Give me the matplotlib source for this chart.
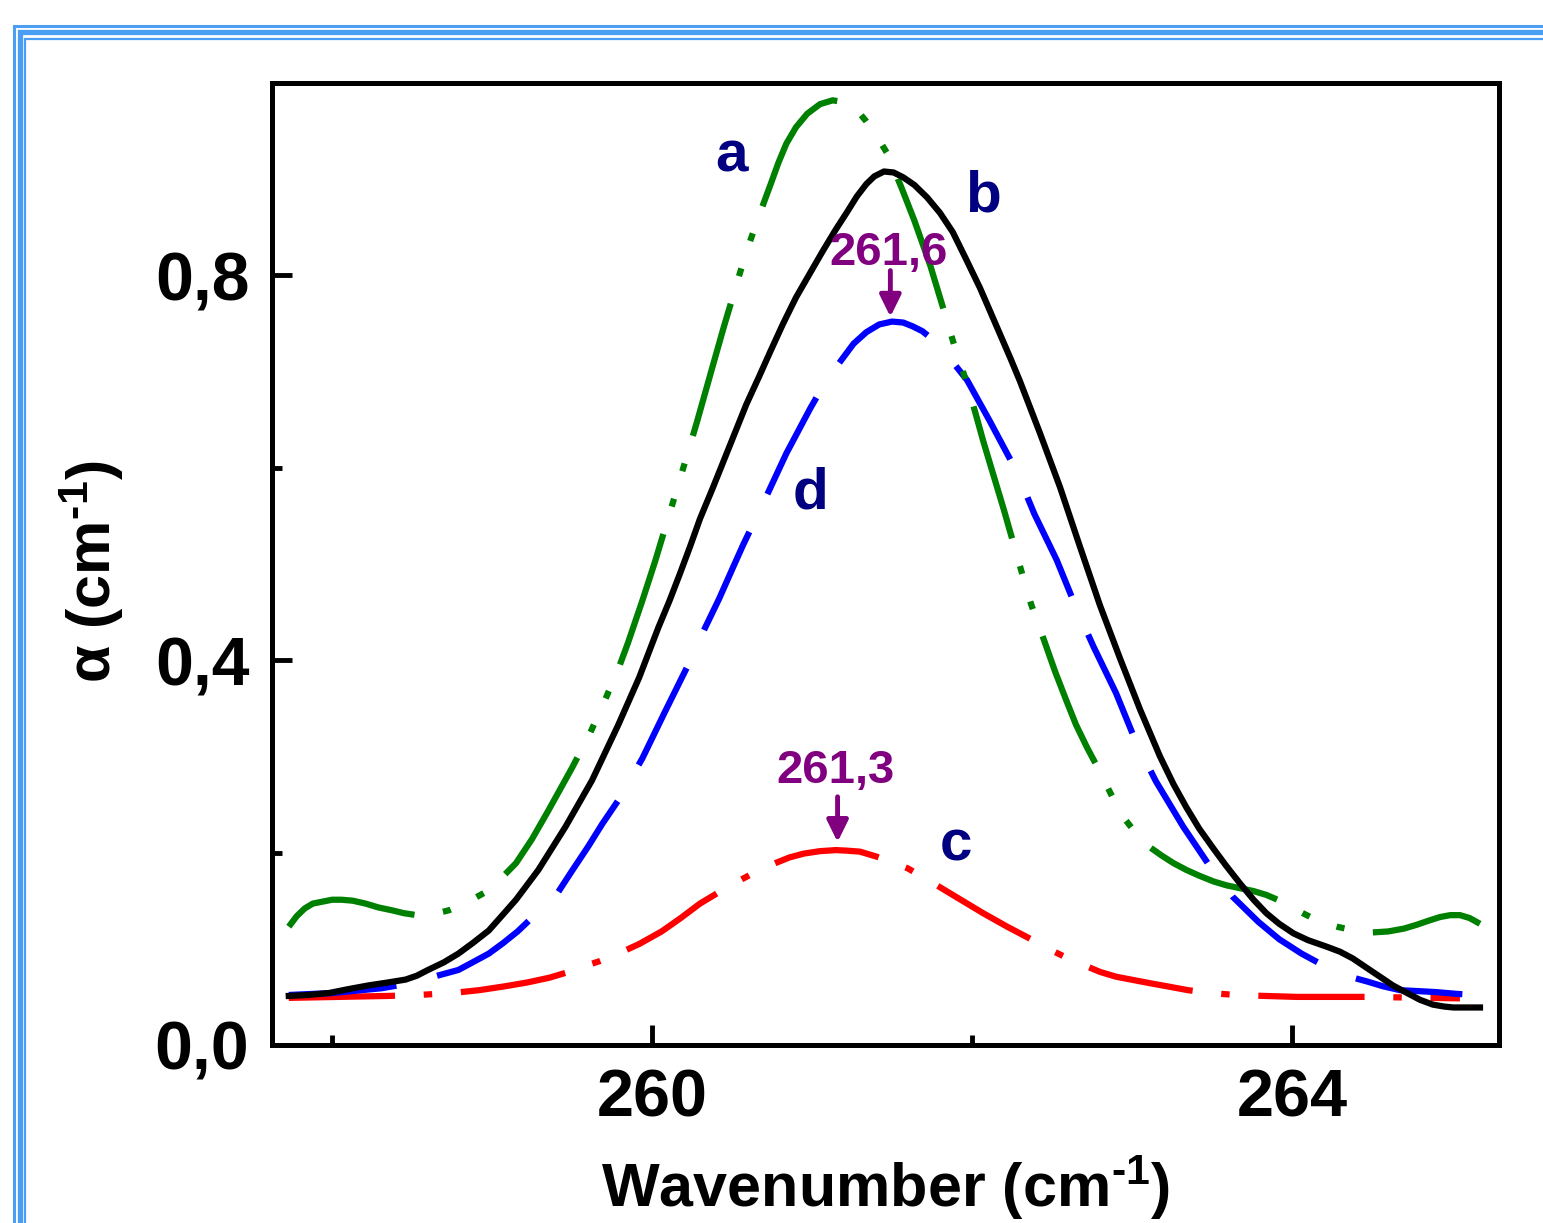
import matplotlib
matplotlib.use("Agg")
import matplotlib.pyplot as plt
from matplotlib.lines import Line2D

plt.rcParams['font.family'] = ['Liberation Sans', 'DejaVu Sans']
plt.rcParams['font.weight'] = 'bold'
plt.rcParams['mathtext.fontset'] = 'custom'
plt.rcParams['mathtext.rm'] = 'Liberation Sans:bold'
plt.rcParams['mathtext.bf'] = 'Liberation Sans:bold'
plt.rcParams['mathtext.it'] = 'Liberation Sans:bold'

# curve a (green)
a_x = [257.73, 257.78, 257.83, 257.88, 257.94, 258.00, 258.06, 258.13, 258.21, 258.29,
       258.375, 258.45, 258.53, 258.63, 258.73, 258.84, 258.95, 259.05, 259.15, 259.25,
       259.35, 259.50, 259.61, 259.71, 259.79, 259.85, 259.94, 260.02, 260.10, 260.16,
       260.23, 260.28, 260.38, 260.45, 260.52, 260.585, 260.66, 260.74, 260.79, 260.84,
       260.90, 260.97, 261.05, 261.13, 261.20, 261.26, 261.30, 261.34, 261.40, 261.47,
       261.56, 261.64, 261.74, 261.82, 261.89, 261.96, 262.02, 262.07, 262.20, 262.31,
       262.37, 262.45, 262.52, 262.59, 262.65, 262.72, 262.80, 262.88, 262.95, 263.03,
       263.10, 263.185, 263.26, 263.34, 263.42, 263.51, 263.59, 263.675, 263.76, 263.84,
       263.91, 263.98, 264.08, 264.175, 264.28, 264.39, 264.50, 264.60, 264.70, 264.78,
       264.85, 264.925, 264.99, 265.05, 265.11, 265.175]
a_y = [0.123, 0.134, 0.142, 0.147, 0.149, 0.151, 0.151, 0.150, 0.147, 0.143,
       0.140, 0.137, 0.135, 0.136, 0.140, 0.148, 0.158, 0.172, 0.189, 0.214,
       0.243, 0.288, 0.323, 0.360, 0.391, 0.418, 0.462, 0.503, 0.547, 0.580,
       0.619, 0.647, 0.706, 0.747, 0.786, 0.822, 0.858, 0.894, 0.917, 0.937,
       0.954, 0.968, 0.978, 0.982, 0.980, 0.975, 0.968, 0.960, 0.946, 0.927,
       0.891, 0.857, 0.810, 0.766, 0.727, 0.692, 0.658, 0.628, 0.556, 0.492,
       0.458, 0.421, 0.388, 0.358, 0.333, 0.309, 0.284, 0.257, 0.236, 0.219,
       0.207, 0.197, 0.189, 0.182, 0.176, 0.170, 0.166, 0.163, 0.160, 0.156,
       0.151, 0.145, 0.136, 0.128, 0.123, 0.119, 0.117, 0.118, 0.121, 0.125,
       0.129, 0.133, 0.135, 0.135, 0.132, 0.126]

# curve b (black)
b_x = [257.73, 257.85, 257.98, 258.10, 258.23, 258.35, 258.46, 258.53, 258.60, 258.70,
       258.79, 258.88, 258.98, 259.06, 259.15, 259.29, 259.46, 259.625, 259.79, 259.92,
       260.04, 260.11, 260.175, 260.24, 260.30, 260.38, 260.45, 260.52, 260.59, 260.67,
       260.74, 260.82, 260.90, 260.99, 261.07, 261.15, 261.22, 261.28, 261.34, 261.39,
       261.45, 261.51, 261.57, 261.64, 261.72, 261.80, 261.88, 261.96, 262.05, 262.11,
       262.175, 262.24, 262.30, 262.425, 262.55, 262.675, 262.80, 262.925, 263.05, 263.175,
       263.26, 263.34, 263.42, 263.51, 263.59, 263.675, 263.76, 263.84, 263.92, 264.01,
       264.10, 264.22, 264.30, 264.38, 264.46, 264.55, 264.63, 264.72, 264.80, 264.88,
       264.95, 265.01, 265.175]
b_y = [0.051, 0.052, 0.054, 0.058, 0.062, 0.065, 0.068, 0.072, 0.078, 0.086,
       0.095, 0.106, 0.119, 0.134, 0.151, 0.182, 0.227, 0.275, 0.333, 0.382,
       0.434, 0.462, 0.490, 0.519, 0.547, 0.579, 0.608, 0.637, 0.666, 0.695,
       0.721, 0.750, 0.777, 0.803, 0.826, 0.848, 0.866, 0.882, 0.895, 0.903,
       0.908, 0.907, 0.902, 0.894, 0.881, 0.865, 0.845, 0.818, 0.787, 0.764,
       0.739, 0.714, 0.690, 0.636, 0.580, 0.518, 0.457, 0.402, 0.349, 0.300,
       0.271, 0.247, 0.225, 0.204, 0.186, 0.168, 0.151, 0.137, 0.126, 0.116,
       0.109, 0.102, 0.097, 0.090, 0.081, 0.071, 0.062, 0.054, 0.047, 0.042,
       0.040, 0.039, 0.039]

# curve c (red)
c_x = [257.73, 258.04, 258.35, 258.54, 258.75, 258.92, 259.08, 259.22, 259.36, 259.46,
       259.56, 259.67, 259.77, 259.92, 260.06, 260.18, 260.30, 260.44, 260.57, 260.67,
       260.77, 260.86, 260.95, 261.05, 261.15, 261.22, 261.30, 261.40, 261.50, 261.60,
       261.69, 261.78, 261.92, 262.07, 262.22, 262.38, 262.49, 262.60, 262.70, 262.80,
       262.90, 263.01, 263.12, 263.22, 263.35, 263.49, 263.65, 263.83, 264.03, 264.47,
       265.05]
c_y = [0.049, 0.050, 0.051, 0.052, 0.054, 0.057, 0.061, 0.065, 0.070, 0.075,
       0.081, 0.087, 0.0935, 0.105, 0.118, 0.132, 0.147, 0.161, 0.173, 0.182,
       0.189, 0.195, 0.199, 0.2015, 0.2026, 0.202, 0.201, 0.196, 0.190, 0.1835,
       0.175, 0.166, 0.152, 0.137, 0.123, 0.109, 0.099, 0.090, 0.083, 0.076,
       0.071, 0.0675, 0.064, 0.061, 0.057, 0.054, 0.052, 0.051, 0.050, 0.050,
       0.0485]

# curve d (blue)
d_x = [257.73, 258.0, 258.31, 258.45, 258.57, 258.68, 258.79, 258.88, 258.98, 259.07,
       259.16, 259.28, 259.41, 259.50, 259.60, 259.69, 259.79, 259.94, 260.08, 260.22,
       260.33, 260.42, 260.50, 260.57, 260.70, 260.84, 260.99, 261.08, 261.175, 261.26,
       261.34, 261.42, 261.50, 261.57, 261.63, 261.69, 261.75, 261.86, 261.97, 262.11,
       262.28, 262.39, 262.53, 262.65, 262.76, 262.90, 263.02, 263.15, 263.32, 263.49,
       263.63, 263.79, 263.92, 264.06, 264.16, 264.26, 264.36, 264.47, 264.57, 264.675,
       264.79, 264.90, 265.04, 265.175]
d_y = [0.052, 0.054, 0.059, 0.063, 0.068, 0.073, 0.078, 0.086, 0.095, 0.106,
       0.118, 0.137, 0.158, 0.181, 0.206, 0.230, 0.2545, 0.298, 0.346, 0.393,
       0.433, 0.464, 0.494, 0.520, 0.565, 0.615, 0.662, 0.688, 0.710, 0.729,
       0.741, 0.749, 0.752, 0.751, 0.747, 0.742, 0.734, 0.714, 0.691, 0.649,
       0.596, 0.552, 0.504, 0.455, 0.414, 0.366, 0.317, 0.274, 0.227, 0.185,
       0.154, 0.128, 0.110, 0.095, 0.086, 0.078, 0.071, 0.066, 0.061, 0.057,
       0.056, 0.055, 0.053, 0.052]

x_ticks = [260, 264]
x_ticklabels = ['260', '264']
x_minor = [258, 262]
y_ticks = [0.0, 0.4, 0.8]
y_ticklabels = ['0,0', '0,4', '0,8']
y_minor = [0.2, 0.6]

# peak annotations: (label, x, text baseline y, arrow tail y, arrow tip y)
peaks = [('261,6', 261.49, 0.811, 0.805, 0.757),
         ('261,3', 261.16, 0.272, 0.258, 0.211)]
# curve letters: (letter, x, baseline y)
letters = [('a', 260.50, 0.908), ('b', 262.07, 0.866),
           ('d', 260.99, 0.558), ('c', 261.90, 0.192)]

W, H = 1543, 1223
fig = plt.figure(figsize=(W / 100, H / 100), dpi=100)
fig.patch.set_facecolor('white')

# blue triple frame
frame_col = '#4a9ff5'
for px, py, lw in [(13.5, 25.5, 2.2), (19.5, 32.0, 3.8), (25.0, 38.5, 1.6)]:
    fig.add_artist(Line2D([px / W, px / W, 1.02], [-0.02, 1 - py / H, 1 - py / H],
                          transform=fig.transFigure, color=frame_col, lw=lw,
                          solid_joinstyle='miter'))

ax = fig.add_axes([271.5 / W, 1 - 1045 / H, (1499 - 271.5) / W, (1045 - 83) / H])

lw = 4.5
style = dict(lw=lw, solid_joinstyle='round', dash_joinstyle='round')
ax.plot(c_x, c_y, color='#ff0000', linestyle=(0, (17, 4.6, 1.35, 4.6)), **style)
ax.plot(d_x, d_y, color='#0000ff', linestyle=(0, (17.3, 6.7)), **style)
ax.plot(a_x, a_y, color='#008000',
        linestyle=(0, (22, 4.6, 1.3, 4.6, 1.3, 4.6)), **style)
ax.plot(b_x, b_y, color='black', **style)

ax.set_xlim(257.622, 265.294)
ax.set_ylim(0.0, 1.0)

ax.set_xticks(x_ticks)
ax.set_xticklabels(x_ticklabels)
ax.set_xticks(x_minor, minor=True)
ax.set_yticks(y_ticks)
ax.set_yticklabels(y_ticklabels)
ax.set_yticks(y_minor, minor=True)

ax.tick_params(which='both', direction='in', width=3.5, top=False, right=False)
ax.tick_params(which='major', length=14.4)
ax.tick_params(which='minor', length=7.2)
ax.tick_params(axis='x', which='major', labelsize=48, pad=17)
ax.tick_params(axis='y', which='major', labelsize=49, pad=16)
for t in ax.get_xticklabels() + ax.get_yticklabels():
    t.set_fontweight('bold')
for s in ax.spines.values():
    s.set_linewidth(3.6)

navy = '#000080'
purple = '#800080'
for lab, lx, ly in letters:
    ax.text(lx, ly, lab, color=navy, fontsize=42, fontweight='bold',
            ha='center', va='baseline')
for lab, px, ty, tail, tip in peaks:
    ax.text(px - 0.01, ty, lab, color=purple, fontsize=34, fontweight='bold',
            ha='center', va='baseline')
    ax.annotate('', xy=(px, tip), xytext=(px, tail),
                arrowprops=dict(arrowstyle='-|>,head_length=0.65,head_width=0.32',
                                lw=3.5, color=purple, shrinkA=0, shrinkB=0,
                                mutation_scale=20))

fig.text(885 / W, 1 - 1207 / H, r'Wavenumber (cm$^{\text{-}1}$)', fontsize=44,
         fontweight='bold', ha='center', va='baseline')
fig.text(92 / W, 1 - 572 / H, r'α (cm$^{\text{-}1}$)', fontsize=44,
         fontweight='bold', ha='center', va='center', rotation=90)

fig.savefig('out.png', dpi=100)
